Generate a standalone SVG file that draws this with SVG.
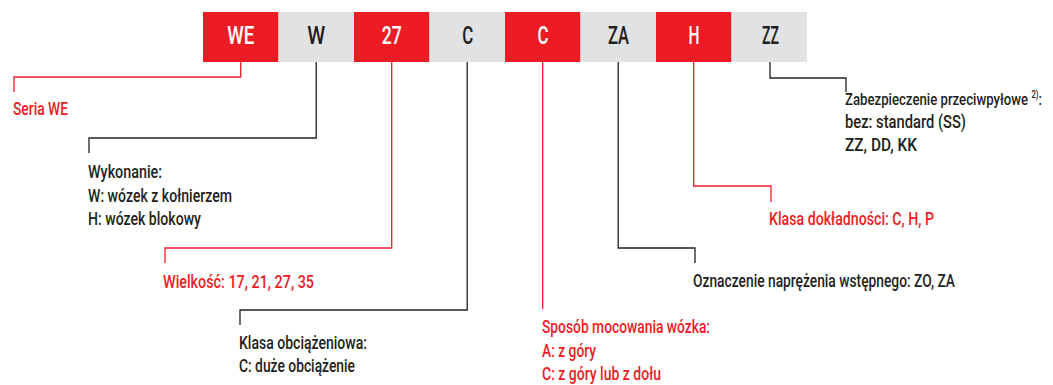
<svg xmlns="http://www.w3.org/2000/svg" width="1053" height="385" viewBox="0 0 1053 385">
<style>
text{font-family:Roboto,'DejaVu Sans Condensed',sans-serif;font-weight:500;}
.bt{font-size:26.5px;text-anchor:middle;}
.r{fill:#ED1C24;}
.g{fill:#E1E2E4;}
.w{fill:#FFFFFF;}
.d{fill:#231F20;}
.lbl{font-size:18px;}
.lr{fill:none;stroke:#ED1C24;stroke-width:1.3;}
.ld{fill:none;stroke:#231F20;stroke-width:1.3;}
</style>
<rect width="1053" height="385" fill="#FFFFFF"/>
<g id="box-WE"><rect class="r" x="203" y="12" width="75.5" height="50"/><text class="bt w" x="240.7" y="44" textLength="27" lengthAdjust="spacingAndGlyphs">WE</text></g>
<g id="box-W"><rect class="g" x="278.5" y="12" width="75.5" height="50"/><text class="bt d" x="316.2" y="44" textLength="18" lengthAdjust="spacingAndGlyphs">W</text></g>
<g id="box-27"><rect class="r" x="354" y="12" width="75.5" height="50"/><text class="bt w" x="391.7" y="44" textLength="20" lengthAdjust="spacingAndGlyphs">27</text></g>
<g id="box-C1"><rect class="g" x="429.5" y="12" width="75.5" height="50"/><text class="bt d" x="467.7" y="44" textLength="11" lengthAdjust="spacingAndGlyphs">C</text></g>
<g id="box-C2"><rect class="r" x="505" y="12" width="75.5" height="50"/><text class="bt w" x="543" y="44" textLength="11" lengthAdjust="spacingAndGlyphs">C</text></g>
<g id="box-ZA"><rect class="g" x="580.5" y="12" width="75.5" height="50"/><text class="bt d" x="618.5" y="44" textLength="21" lengthAdjust="spacingAndGlyphs">ZA</text></g>
<g id="box-H"><rect class="r" x="656" y="12" width="75.5" height="50"/><text class="bt w" x="694" y="44" textLength="11" lengthAdjust="spacingAndGlyphs">H</text></g>
<g id="box-ZZ"><rect class="g" x="731.5" y="12" width="75.5" height="50"/><text class="bt d" x="770.5" y="44" textLength="17" lengthAdjust="spacingAndGlyphs">ZZ</text></g>
<g id="connectors">
<polyline class="lr" points="240.7,62 240.7,77 14,77 14,92"/>
<polyline class="ld" points="316.2,62 316.2,138 89,138 89,153"/>
<polyline class="lr" points="391.7,62 391.7,248 165,248 165,263"/>
<polyline class="ld" points="467.2,62 467.2,310 240,310 240,325"/>
<polyline class="lr" points="542.7,62 542.7,309"/>
<polyline class="ld" points="618.2,62 618.2,248 695,248 695,263"/>
<polyline class="lr" points="693.7,62 693.7,186 771,186 771,202"/>
<polyline class="ld" points="770,62 770,78 846,78 846,92"/>
</g>
<g id="label-seria"><text class="lbl r" x="13" y="115" textLength="55" lengthAdjust="spacingAndGlyphs">Seria WE</text></g>
<g id="label-wykonanie"><text class="lbl d" x="88" y="178" textLength="74" lengthAdjust="spacingAndGlyphs">Wykonanie:</text><text class="lbl d" x="88" y="202" textLength="144" lengthAdjust="spacingAndGlyphs">W: wózek z kołnierzem</text><text class="lbl d" x="88" y="225" textLength="113" lengthAdjust="spacingAndGlyphs">H: wózek blokowy</text></g>
<g id="label-wielkosc"><text class="lbl r" x="163" y="288" textLength="151" lengthAdjust="spacingAndGlyphs">Wielkość: 17, 21, 27, 35</text></g>
<g id="label-klasa-obc"><text class="lbl d" x="239" y="349" textLength="128" lengthAdjust="spacingAndGlyphs">Klasa obciążeniowa:</text><text class="lbl d" x="239" y="372" textLength="116" lengthAdjust="spacingAndGlyphs">C: duże obciążenie</text></g>
<g id="label-sposob"><text class="lbl r" x="542" y="333" textLength="168" lengthAdjust="spacingAndGlyphs">Sposób mocowania wózka:</text><text class="lbl r" x="542" y="357" textLength="54" lengthAdjust="spacingAndGlyphs">A: z góry</text><text class="lbl r" x="542" y="380" textLength="119" lengthAdjust="spacingAndGlyphs">C: z góry lub z dołu</text></g>
<g id="label-naprezenie"><text class="lbl d" x="693" y="287" textLength="262" lengthAdjust="spacingAndGlyphs">Oznaczenie naprężenia wstępnego: ZO, ZA</text></g>
<g id="label-klasa-dok"><text class="lbl r" x="769" y="225" textLength="165" lengthAdjust="spacingAndGlyphs">Klasa dokładności: C, H, P</text></g>
<g id="label-zabezp"><text class="d" x="845" y="105" font-size="17" textLength="197" lengthAdjust="spacingAndGlyphs">Zabezpieczenie przeciwpyłowe <tspan font-size="10" dy="-7">2)</tspan><tspan dy="7">:</tspan></text><text class="lbl d" x="845" y="128" textLength="121" lengthAdjust="spacingAndGlyphs">bez: standard (SS)</text><text class="lbl d" x="845" y="151" textLength="72" lengthAdjust="spacingAndGlyphs">ZZ, DD, KK</text></g>
</svg>
